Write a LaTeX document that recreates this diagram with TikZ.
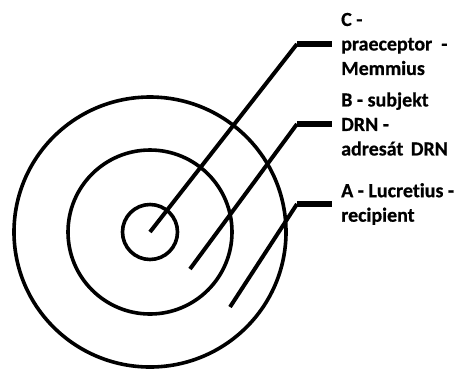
\documentclass[tikz,border=0pt]{standalone}
\usepackage{fontspec}
\setmainfont{Carlito}[RawFeature=-liga,BoldFeatures={FakeBold=0.6}]
\begin{document}
\begin{tikzpicture}[x=1pt,y=-1pt,
  ring/.style={draw=black,line width=3.6pt},
  leader/.style={draw=black,line width=4pt},
  bar/.style={draw=black,line width=5.3pt},
  lab/.style={anchor=west,align=left,inner xsep=9pt,inner ysep=0pt,
    font=\bfseries\fontsize{20}{24.5}\selectfont}]
\useasboundingbox (0,0) rectangle (465,368);
\coordinate (ctr) at (150,232);
\draw[ring] (ctr) ellipse [x radius=136, y radius=135];
\draw[ring] (ctr) circle [radius=82];
\draw[ring] (ctr) circle [radius=27.5];
% labels
\node[lab] (labC) at (332,44) {C -\\praeceptor\hspace{9pt}-\\Memmius};
\node[lab] (labB) at (332,124) {B - subjekt\\DRN -\\adresát\hspace{3pt} DRN};
\node[lab] (labA) at (332,204) {A - Lucretius -\\recipient};
% leaders
\coordinate (sC) at (150,232);
\coordinate (sB) at (190,269);
\coordinate (sA) at (230,307);
\coordinate (kC) at (297,44);
\coordinate (kB) at (297,124);
\coordinate (kA) at (297,204);
\draw[leader] (sC) -- (kC);
\draw[leader] (sB) -- (kB);
\draw[leader] (sA) -- (kA);
\draw[bar] (kC) -- (labC.west);
\draw[bar] (kB) -- (labB.west);
\draw[bar] (kA) -- (labA.west);
\end{tikzpicture}
\end{document}
